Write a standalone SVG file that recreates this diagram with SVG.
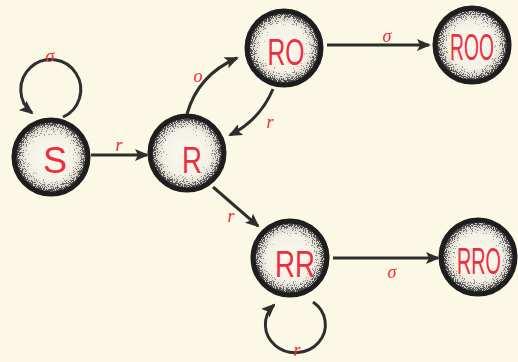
<svg xmlns="http://www.w3.org/2000/svg" width="518" height="362" viewBox="0 0 518 362">
<defs>
<style>
.bg{fill:#fbf8e5}
.ring{fill:none;stroke:#1e1e1e;stroke-width:5}
.base{fill:url(#shade)}
.dots{fill:url(#dens);filter:url(#stip)}
.nl{font-family:"Liberation Sans",Arial,sans-serif;font-size:36px;fill:#ec2f3c;text-anchor:middle}
.el{font-family:"Liberation Serif","DejaVu Serif",serif;font-size:18px;fill:#ec2f3c;text-anchor:middle;font-style:italic}
.edge{fill:none;stroke:#2e2e2e;stroke-width:3}
</style>
<radialGradient id="shade" cx="0.5" cy="0.5" r="0.5">
<stop offset="0" stop-color="#fcfaf0"/>
<stop offset="0.65" stop-color="#f3f1e6"/>
<stop offset="0.9" stop-color="#c8c6be"/>
<stop offset="1" stop-color="#666"/>
</radialGradient>
<radialGradient id="dens" cx="0.5" cy="0.5" r="0.5">
<stop offset="0" stop-color="#000" stop-opacity="0.05"/>
<stop offset="0.5" stop-color="#000" stop-opacity="0.25"/>
<stop offset="0.8" stop-color="#000" stop-opacity="0.6"/>
<stop offset="1" stop-color="#000" stop-opacity="1"/>
</radialGradient>
<filter id="stip" x="-10%" y="-10%" width="120%" height="120%">
<feTurbulence type="fractalNoise" baseFrequency="0.9" numOctaves="1" seed="4" result="n"/>
<feColorMatrix in="n" type="matrix" values="0 0 0 0 0  0 0 0 0 0  0 0 0 0 0  1.6 0 0 0 -0.3" result="na"/>
<feComposite in="na" in2="SourceAlpha" operator="arithmetic" k1="0" k2="1" k3="1" k4="-0.45" result="sum"/>
<feComponentTransfer in="sum" result="th"><feFuncA type="discrete" tableValues="0 0 0 1"/></feComponentTransfer>
<feFlood flood-color="#333"/>
<feComposite in2="th" operator="in" result="d"/>
<feComposite in="d" in2="SourceAlpha" operator="in"/>
</filter>
<marker id="ah" markerWidth="14" markerHeight="12" refX="12" refY="6" orient="auto" markerUnits="userSpaceOnUse">
<path d="M0,0 L14,6 L0,12 L3,6 Z" fill="#2e2e2e"/>
</marker>
</defs>
<rect class="bg" x="0" y="0" width="518" height="362"/>

<g id="connectors">
<path class="edge" d="M63,117 A30,30 0 1 0 32,113" marker-end="url(#ah)"/>
<line class="edge" x1="91" y1="155" x2="147" y2="155" marker-end="url(#ah)"/>
<path class="edge" d="M187,114 Q198,75 237,58" marker-end="url(#ah)"/>
<path class="edge" d="M273,89 Q260,120 230,135" marker-end="url(#ah)"/>
<line class="edge" x1="327" y1="45" x2="429" y2="45" marker-end="url(#ah)"/>
<line class="edge" x1="213" y1="187" x2="258" y2="226" marker-end="url(#ah)"/>
<line class="edge" x1="333" y1="258" x2="438" y2="258" marker-end="url(#ah)"/>
<path class="edge" d="M313,302 A30,28 0 1 1 274,305" marker-end="url(#ah)"/>
<text class="el" x="50" y="62">σ</text>
<text class="el" x="119" y="151">r</text>
<text class="el" x="198" y="82">o</text>
<text class="el" x="270" y="128">r</text>
<text class="el" x="387" y="42">σ</text>
<text class="el" x="231" y="222">r</text>
<text class="el" x="392" y="278">σ</text>
<text class="el" x="297" y="356">r</text>
</g>

<g id="S">
<circle class="base" cx="51" cy="157" r="37"/>
<circle class="dots" cx="51" cy="157" r="37"/>
<circle class="ring" cx="51" cy="157" r="37"/>
<text class="nl" x="55" y="173" font-size="44px">S</text>
</g>
<g id="R">
<circle class="base" cx="187" cy="153" r="37"/>
<circle class="dots" cx="187" cy="153" r="37"/>
<circle class="ring" cx="187" cy="153" r="37"/>
<text class="nl" x="192" y="173" textLength="20" lengthAdjust="spacingAndGlyphs">R</text>
</g>
<g id="RO">
<circle class="base" cx="284" cy="48" r="37"/>
<circle class="dots" cx="284" cy="48" r="37"/>
<circle class="ring" cx="284" cy="48" r="37"/>
<text class="nl" x="286" y="65" textLength="37" lengthAdjust="spacingAndGlyphs">RO</text>
</g>
<g id="ROO">
<circle class="base" cx="472" cy="45" r="37"/>
<circle class="dots" cx="472" cy="45" r="37"/>
<circle class="ring" cx="472" cy="45" r="37"/>
<text class="nl" x="472" y="60" font-size="32px" textLength="44" lengthAdjust="spacingAndGlyphs">ROO</text>
</g>
<g id="RR">
<circle class="base" cx="290" cy="258" r="37"/>
<circle class="dots" cx="290" cy="258" r="37"/>
<circle class="ring" cx="290" cy="258" r="37"/>
<text class="nl" x="295" y="277" textLength="40" lengthAdjust="spacingAndGlyphs">RR</text>
</g>
<g id="RRO">
<circle class="base" cx="478" cy="257" r="37"/>
<circle class="dots" cx="478" cy="257" r="37"/>
<circle class="ring" cx="478" cy="257" r="37"/>
<text class="nl" x="479" y="274" font-size="32px" textLength="44" lengthAdjust="spacingAndGlyphs">RRO</text>
</g>
</svg>
